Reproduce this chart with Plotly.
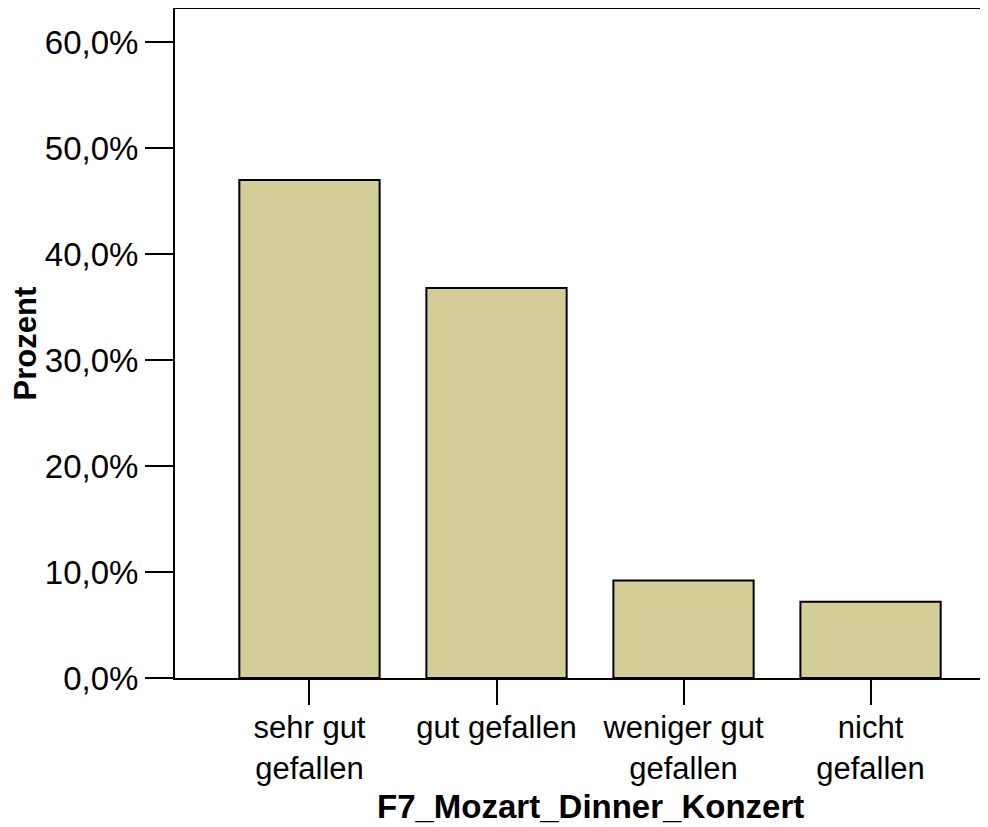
import plotly.graph_objects as go

categories = ["sehr gut<br>gefallen", "gut gefallen", "weniger gut<br>gefallen", "nicht<br>gefallen"]
percent = [47.0, 36.8, 9.2, 7.2]
y_ticks = [0, 10, 20, 30, 40, 50, 60]
y_tick_labels = ["0,0%", "10,0%", "20,0%", "30,0%", "40,0%", "50,0%", "60,0%"]

FONT = "Liberation Sans, Arial, Helvetica, sans-serif"
BAR_COLOR = "#D3CE97"

fig = go.Figure()
fig.add_trace(
    go.Bar(
        x=list(range(len(categories))),
        y=percent,
        width=0.75,
        marker=dict(color=BAR_COLOR, line=dict(color="black", width=2)),
        showlegend=False,
        hoverinfo="y",
    )
)

# the page adds an 8px body margin, so the figure is a bit smaller than the window
fig.update_layout(
    width=980,
    height=819,
    margin=dict(l=167, r=0, t=1, b=149),
    paper_bgcolor="white",
    plot_bgcolor="white",
    font=dict(family=FONT, size=33, color="black"),
    xaxis=dict(
        range=[-0.719, 3.628],
        tickmode="array",
        tickvals=list(range(len(categories))),
        ticktext=categories,
        ticks="outside",
        ticklen=25,
        tickwidth=2,
        tickcolor="black",
        ticklabelstandoff=-4,
        showline=True,
        linecolor="black",
        linewidth=2,
        mirror=True,
        showgrid=False,
        zeroline=False,
        tickfont=dict(size=31),
    ),
    yaxis=dict(
        range=[0, 63.14],
        tickmode="array",
        tickvals=y_ticks,
        ticktext=y_tick_labels,
        ticks="outside",
        ticklen=28,
        tickwidth=2,
        tickcolor="black",
        showline=True,
        linecolor="black",
        linewidth=2,
        showgrid=False,
        zeroline=False,
        tickfont=dict(size=33),
    ),
)

# x title centred on the category span, y title rotated on the left
fig.add_annotation(
    text="<b>F7_Mozart_Dinner_Konzert</b>",
    xref="x", x=1.5,
    yref="paper", y=-0.192,
    yanchor="middle",
    showarrow=False,
    font=dict(size=33),
)
fig.add_annotation(
    text="<b>Prozent</b>",
    xref="paper", x=-0.1833,
    yref="paper", y=0.5,
    xanchor="center", yanchor="middle",
    textangle=-90,
    showarrow=False,
    font=dict(size=31),
)

fig.write_html("out.html")
